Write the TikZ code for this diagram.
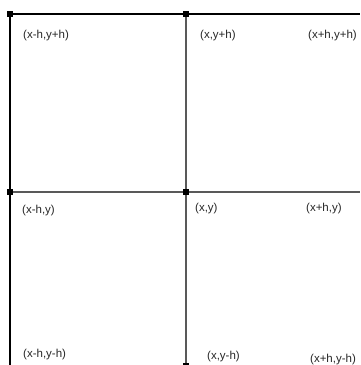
\documentclass[tikz,border=0pt]{standalone}
\usepackage{fontspec}
\setmainfont{Liberation Sans}
\usetikzlibrary{positioning}
\tikzset{
  grid line/.style={line width=1.2pt, black},
  inner line/.style={line width=1.1pt, black!65},
  corner/.style={rectangle, fill, inner sep=0pt, minimum size=5.5pt},
  tick/.style={rectangle, fill, inner sep=0pt, minimum width=6pt, minimum height=1.5pt},
  lbl/.style={anchor=west, inner sep=0pt, text=black!85, font=\fontsize{11.5}{12}\selectfont},
}
\begin{document}
\begin{tikzpicture}[x=1pt, y=-1pt]
  \useasboundingbox (0,0) rectangle (360,365);

  % Corner markers
  \coordinate (tl) at (10,14);
  \coordinate (tm) at (186,14);
  \coordinate (ml) at (10,192);
  \coordinate (mm) at (186,192);
  \coordinate (bm) at (186,364);
  \coordinate (tr) at (360,14);
  \coordinate (mr) at (360,192);
  \coordinate (bl) at (10,365);

  % Outer lines
  \draw[grid line] (tl) -- (tr);
  \draw[grid line] (tl) -- (bl);

  % Inner lines
  \draw[inner line] (tm) -- (bm);
  \draw[inner line] (ml) -- (mr);

  \foreach \c in {tl,tm,ml,mm}
    \node[corner] at (\c) {};
  \node[tick] at (bm) {};

  % Labels
  \node[lbl] (a1) at (23,35.5) {(x-h,y+h)};
  \node[lbl] (a2) at (200,35.5) {(x,y+h)};
  \node[lbl] (a3) at (308,35.5) {(x+h,y+h)};
  \node[lbl] (b1) at (22,211) {(x-h,y)};
  \node[lbl] (b2) at (195,208.5) {(x,y)};
  \node[lbl] (b3) at (306,208.5) {(x+h,y)};
  \node[lbl] (c1) at (23,355) {(x-h,y-h)};
  \node[lbl] (c2) at (207,357) {(x,y-h)};
  \node[lbl] (c3) at (310,360) {(x+h,y-h)};
\end{tikzpicture}
\end{document}
